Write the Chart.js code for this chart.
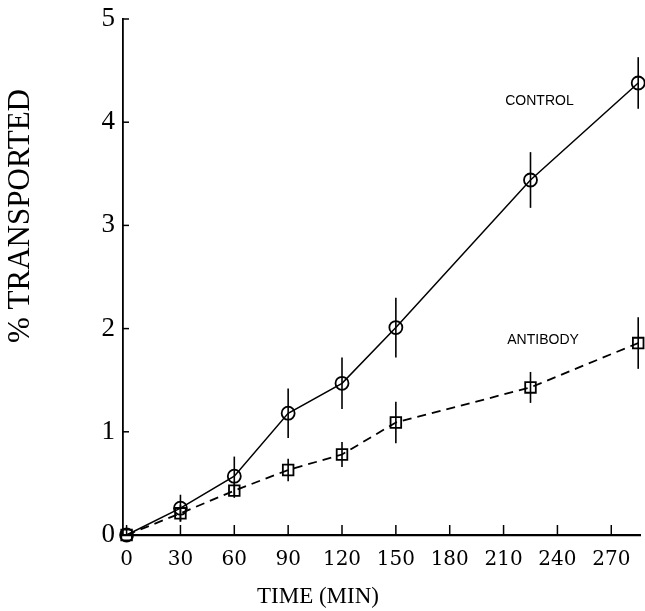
<!DOCTYPE html>
<html>
<head>
<meta charset="utf-8">
<script src="https://cdn.jsdelivr.net/npm/chart.js@4"></script>
<style>
  body { margin: 0; background: #fff; }
  canvas { display: block; }
</style>
</head>
<body>
<canvas id="transportChart" width="645" height="611"></canvas>
<script>
// Data
const times = [0, 30, 60, 90, 120, 150, 225, 285];
const controlValues = [0, 0.26, 0.57, 1.18, 1.47, 2.01, 3.44, 4.38];
const controlErrors = [0, 0.13, 0.19, 0.24, 0.25, 0.29, 0.27, 0.25];
const antibodyValues = [0, 0.21, 0.43, 0.63, 0.78, 1.09, 1.43, 1.86];
const antibodyErrors = [0, 0.08, 0.07, 0.11, 0.12, 0.2, 0.15, 0.25];
const xTicks = [0, 30, 60, 90, 120, 150, 180, 210, 240, 270];
const yTicks = [0, 1, 2, 3, 4, 5];

const toPoints = (xs, ys) => xs.map((x, i) => ({ x: x, y: ys[i] }));

// error bars, inward ticks and free text labels
const extrasPlugin = {
    id: "extras",
    afterDatasetsDraw(chart) {
        let ctx = chart.ctx;
        let xs = chart.scales.x;
        let ys = chart.scales.y;
        ctx.save();
        ctx.strokeStyle = "#000";
        ctx.lineWidth = 1.6;
        [[controlValues, controlErrors], [antibodyValues, antibodyErrors]].forEach(([vals, errs]) => {
            vals.forEach((v, i) => {
                if (!errs[i]) return;
                let px = xs.getPixelForValue(times[i]);
                ctx.beginPath();
                ctx.moveTo(px, ys.getPixelForValue(v - errs[i]));
                ctx.lineTo(px, ys.getPixelForValue(v + errs[i]));
                ctx.stroke();
            });
        });
        ctx.restore();
    },
    afterDraw(chart) {
        let ctx = chart.ctx;
        let xs = chart.scales.x;
        let ys = chart.scales.y;
        let area = chart.chartArea;
        ctx.save();
        ctx.strokeStyle = "#000";
        ctx.lineWidth = 1.5;
        // x ticks pointing up
        xTicks.forEach(t => {
            let px = xs.getPixelForValue(t);
            ctx.beginPath();
            ctx.moveTo(px, area.bottom);
            ctx.lineTo(px, area.bottom - 10);
            ctx.stroke();
        });
        // y ticks pointing right
        yTicks.forEach(t => {
            let py = ys.getPixelForValue(t);
            ctx.beginPath();
            ctx.moveTo(area.left, py);
            ctx.lineTo(area.left + 6, py);
            ctx.stroke();
        });

        ctx.fillStyle = "#000";
        ctx.textAlign = "center";
        ctx.textBaseline = "middle";
        ctx.font = "14px 'Liberation Sans', Arial, sans-serif";
        ctx.fillText("CONTROL", xs.getPixelForValue(230), ys.getPixelForValue(4.2));
        ctx.fillText("ANTIBODY", xs.getPixelForValue(232), ys.getPixelForValue(1.89));

        // axis titles
        ctx.font = "23px 'Liberation Serif', 'Times New Roman', serif";
        ctx.fillText("TIME (MIN)", 318, 597);
        ctx.translate(21, 216);
        ctx.rotate(-Math.PI / 2);
        ctx.font = "31px 'Liberation Serif', 'Times New Roman', serif";
        ctx.fillText("% TRANSPORTED", 0, 0);
        ctx.restore();
    }
};

let ctx = document.getElementById("transportChart").getContext("2d");
new Chart(ctx, {
    type: "line",
    data: {
        datasets: [{
            label: "CONTROL",
            data: toPoints(times, controlValues),
            borderColor: "#000",
            borderWidth: 1.5,
            pointStyle: "circle",
            pointRadius: 6.5,
            pointBorderWidth: 1.8,
            pointBackgroundColor: "rgba(0,0,0,0)",
            pointBorderColor: "#000",
            fill: false,
            clip: false,
            tension: 0
        }, {
            label: "ANTIBODY",
            data: toPoints(times, antibodyValues),
            borderColor: "#000",
            borderWidth: 1.8,
            borderDash: [9, 6],
            pointStyle: "rect",
            pointRadius: 7.5,
            pointBorderWidth: 1.8,
            pointBackgroundColor: "rgba(0,0,0,0)",
            pointBorderColor: "#000",
            fill: false,
            clip: false,
            tension: 0
        }]
    },
    options: {
        responsive: false,
        animation: false,
        layout: {
            autoPadding: false,
            padding: { left: 0, top: 19, right: 5, bottom: 0 }
        },
        plugins: {
            legend: { display: false },
            tooltip: { enabled: false }
        },
        scales: {
            x: {
                type: "linear",
                min: -2,
                max: 286,
                grid: { display: false, drawTicks: false },
                border: { display: true, color: "#000", width: 2.2 },
                afterBuildTicks: scale => {
                    scale.ticks = xTicks.map(v => ({ value: v }));
                },
                afterFit: scale => {
                    scale.height = 76;
                    scale.paddingLeft = 0;
                    scale.paddingRight = 0;
                },
                ticks: {
                    color: "#000",
                    padding: 13,
                    maxRotation: 0,
                    autoSkip: false,
                    font: { family: "'DejaVu Serif', serif", size: 20 }
                }
            },
            y: {
                type: "linear",
                min: 0,
                max: 5,
                grid: { display: false, drawTicks: false },
                border: { display: true, color: "#000", width: 1.8 },
                afterBuildTicks: scale => {
                    scale.ticks = yTicks.map(v => ({ value: v }));
                },
                afterFit: scale => {
                    scale.width = 123;
                    scale.paddingTop = 0;
                    scale.paddingBottom = 0;
                },
                ticks: {
                    color: "#000",
                    padding: 8,
                    font: { family: "'Liberation Serif', 'Times New Roman', serif", size: 27 }
                }
            }
        }
    },
    plugins: [extrasPlugin]
});
</script>
</body>
</html>
